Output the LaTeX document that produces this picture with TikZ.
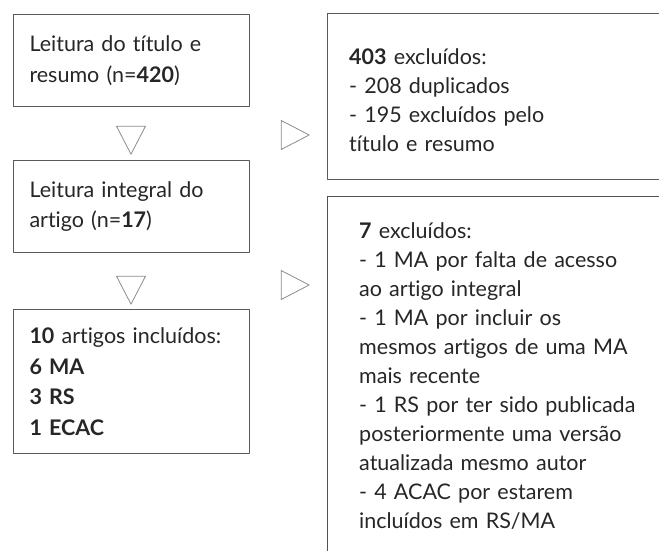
\documentclass[tikz,border=0pt]{standalone}
\usepackage{fontspec}
\setmainfont{Lato}[Ligatures=NoCommon]
\usetikzlibrary{shapes.geometric}
\definecolor{txt}{HTML}{262626}
\definecolor{borda}{HTML}{5A5A5A}
\definecolor{seta}{HTML}{8C8C8C}
\tikzset{
	caixa/.style={draw=borda,line width=1pt,anchor=north west,minimum width=236pt,inner xsep=16pt,inner ysep=0pt,text width=204pt,align=left,font=\fontsize{21.5}{30.5}\selectfont},
	texto/.style={anchor=base west,inner sep=0pt,text width=300pt,align=left},
	ponta/.style={isosceles triangle,isosceles triangle stretches,draw=seta,line width=0.8pt,inner sep=0pt,minimum width=29pt,minimum height=28pt},
}
\begin{document}
\begin{tikzpicture}[x=1pt,y=-1pt,line join=round,font=\fontsize{21.5}{29}\selectfont,text=txt]
			\useasboundingbox (0,0) rectangle (659,551);
			\path
			(327,14) coordinate (e1)
			(327,179) coordinate (f1)
			(327,196) coordinate (e2)
			(659,14) coordinate (r1)
			(659,179) coordinate (r2)
			(659,196) coordinate (r3)
			(327,551) coordinate (b2)
			;
			\node[caixa,minimum height=92pt] (leitura) at (13,14) {Leitura do título e\\resumo (n=\textbf{420})};
			\node[caixa,minimum height=92pt] (integral) at (13,160) {Leitura integral do\\artigo (n=\textbf{17})};
			\node[caixa,minimum height=144pt] (incluidos) at (13,309) {\textbf{10} artigos incluídos:\\\textbf{6 MA}\\\textbf{3 RS}\\\textbf{1 ECAC}};
			\draw[borda,line width=1pt] (r1)--(e1)--(f1)--(r2);
			\draw[txt!80,line width=1pt] (r3)--(e2)--(b2);
			\node[texto] (excl1) at (349,65) {\textbf{403} excluídos:\\- 208 duplicados\\- 195 excluídos pelo\\título e resumo};
			\node[texto] (excl2) at (359,238) {\textbf{7} excluídos:\\- 1 MA por falta de acesso\\ao artigo integral\\- 1 MA por incluir os\\mesmos artigos de uma MA\\mais recente\\- 1 RS por ter sido publicada\\posteriormente uma versão\\atualizada mesmo autor\\- 4 ACAC por estarem\\incluídos em RS/MA};
			\foreach \n/\x/\y/\g in {d1/131/135/-90,d2/131/285/-90,r1/290/135/0,r2/290/285/0}
			\node[ponta,shape border rotate=\g] (\n) at (\x,\y) {};
	\end{tikzpicture}
\end{document}
